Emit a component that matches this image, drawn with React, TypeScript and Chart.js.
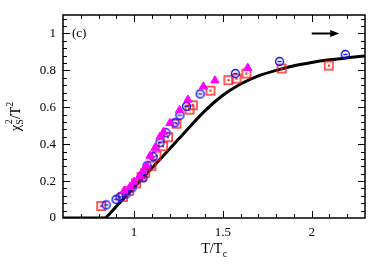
import React, { useEffect, useRef } from 'react';
import { Chart, registerables } from 'chart.js';
Chart.register(...registerables);

// Theory curve: flat part and rising part
const flatT = [0.6, 0.84];
const flatY = [0, 0];
const curveT = [0.84, 0.9, 1.0, 1.1, 1.2, 1.3, 1.4, 1.5, 1.6, 1.7, 1.8, 1.9, 2.0, 2.1, 2.2, 2.3];
const curveY = [0, 0.062, 0.166, 0.27, 0.374, 0.48, 0.582, 0.665, 0.726, 0.77, 0.8, 0.825, 0.843, 0.857, 0.868, 0.878];

// Red squares
const squareT = [0.815, 0.938, 0.972, 1.011, 1.042, 1.062, 1.098, 1.126, 1.163, 1.191, 1.239, 1.312, 1.331, 1.43, 1.531, 1.576, 1.632, 1.831, 2.096];
const squareY = [0.065, 0.114, 0.147, 0.188, 0.223, 0.245, 0.283, 0.337, 0.389, 0.438, 0.511, 0.587, 0.611, 0.69, 0.747, 0.755, 0.783, 0.81, 0.826];

// Blue circles
const circleT = [0.843, 0.899, 0.921, 0.955, 0.989, 1.051, 1.073, 1.107, 1.146, 1.18, 1.23, 1.258, 1.295, 1.372, 1.57, 1.819, 2.189];
const circleY = [0.071, 0.101, 0.114, 0.13, 0.163, 0.217, 0.283, 0.332, 0.408, 0.462, 0.516, 0.557, 0.605, 0.672, 0.783, 0.848, 0.886];

// Magenta triangles
const triangleT = [0.944, 0.978, 1.0, 1.032, 1.051, 1.07, 1.09, 1.118, 1.146, 1.166, 1.202, 1.256, 1.303, 1.39, 1.455, 1.64];
const triangleY = [0.147, 0.168, 0.196, 0.228, 0.255, 0.283, 0.337, 0.38, 0.44, 0.467, 0.514, 0.584, 0.641, 0.712, 0.745, 0.813];

const xTickValues = [1, 1.5, 2];
const xTickLabels = ['1', '1.5', '2'];
const yTickValues = [0, 0.2, 0.4, 0.6, 0.8, 1];
const yTickLabels = ['0', '0.2', '0.4', '0.6', '0.8', '1'];

const SERIF = "'Liberation Serif', 'Times New Roman', serif";

function toPts(xs: number[], ys: number[]) {
  return xs.map((x, i) => ({ x, y: ys[i] }));
}

function makeSquare(): HTMLCanvasElement {
  const c = document.createElement('canvas');
  c.width = 12; c.height = 12;
  const g = c.getContext('2d')!;
  g.strokeStyle = '#ff1a1a';
  g.lineWidth = 1.4;
  g.strokeRect(1.9, 1.9, 8.2, 8.2);
  g.fillStyle = '#ff1a1a';
  g.fillRect(5, 5, 2, 2);
  return c;
}

function makeCircle(): HTMLCanvasElement {
  const c = document.createElement('canvas');
  c.width = 11; c.height = 11;
  const g = c.getContext('2d')!;
  g.strokeStyle = '#1010ff';
  g.lineWidth = 1.4;
  g.beginPath();
  g.arc(5.5, 5.5, 4, 0, Math.PI * 2);
  g.stroke();
  g.beginPath();
  g.moveTo(3.5, 5.5);
  g.lineTo(7.5, 5.5);
  g.stroke();
  return c;
}

const framePlugin = {
  id: 'frame',
  afterDraw(chart: any) {
    const { ctx, chartArea, scales } = chart;
    const { left, right, top, bottom } = chartArea;
    const xs = scales.x;
    const ys = scales.y;
    ctx.save();
    ctx.strokeStyle = '#000';
    ctx.lineWidth = 1;
    const line = (x1: number, y1: number, x2: number, y2: number) => {
      ctx.beginPath(); ctx.moveTo(x1, y1); ctx.lineTo(x2, y2); ctx.stroke();
    };
    for (let i = 6; i <= 23; i++) {
      const v = i / 10;
      const px = Math.round(xs.getPixelForValue(v)) + 0.5;
      if (px <= left + 1 || px >= right - 1) continue;
      const len = i % 5 === 0 ? 7 : 4;
      line(px, bottom, px, bottom - len);
      line(px, top, px, top + len);
    }
    for (let i = 0; i <= 27; i++) {
      const v = i * 0.04;
      const py = Math.round(ys.getPixelForValue(v)) + 0.5;
      if (py <= top + 1 || py >= bottom - 1) continue;
      const len = i % 5 === 0 ? 7 : 4;
      line(left, py, left + len, py);
      line(right, py, right - len, py);
    }
    ctx.lineWidth = 1.5;
    ctx.strokeRect(left, top, right - left, bottom - top);

    ctx.fillStyle = '#000';
    ctx.font = `13px ${SERIF}`;
    ctx.textAlign = 'left';
    ctx.textBaseline = 'middle';
    ctx.fillText('(c)', left + 9, ys.getPixelForValue(1.0));

    const ay = Math.round(ys.getPixelForValue(1.0)) + 0.5;
    const ax1 = xs.getPixelForValue(2.0);
    const ax2 = xs.getPixelForValue(2.155);
    ctx.lineWidth = 2;
    line(ax1, ay, ax2 - 6, ay);
    ctx.beginPath();
    ctx.moveTo(ax2, ay);
    ctx.lineTo(ax2 - 9, ay - 3.5);
    ctx.lineTo(ax2 - 9, ay + 3.5);
    ctx.closePath();
    ctx.fill();

    ctx.textBaseline = 'alphabetic';
    const main = 'T/T';
    ctx.font = `14px ${SERIF}`;
    const wMain = ctx.measureText(main).width;
    ctx.font = `10px ${SERIF}`;
    const wSub = ctx.measureText('c').width;
    const cx = (left + right) / 2;
    const sx = cx - (wMain + wSub) / 2;
    ctx.font = `14px ${SERIF}`;
    ctx.fillText(main, sx, 253);
    ctx.font = `10px ${SERIF}`;
    ctx.fillText('c', sx + wMain + 0.5, 257);

    ctx.save();
    ctx.translate(20, (top + bottom) / 2);
    ctx.rotate(-Math.PI / 2);
    ctx.font = `15px ${SERIF}`;
    const wChi = ctx.measureText('χ').width;
    ctx.font = `10px ${SERIF}`;
    const wS = ctx.measureText('S').width;
    ctx.font = `14px ${SERIF}`;
    const wT = ctx.measureText('/T').width;
    ctx.font = `10px ${SERIF}`;
    const w2 = ctx.measureText('2').width;
    const total = wChi + wS + wT + w2;
    let tx = -total / 2;
    ctx.font = `15px ${SERIF}`;
    ctx.fillText('χ', tx, 0);
    tx += wChi;
    ctx.font = `10px ${SERIF}`;
    ctx.fillText('S', tx, 3);
    ctx.fillText('2', tx + 0.5, -8);
    tx += wS;
    ctx.font = `14px ${SERIF}`;
    ctx.fillText('/T', tx, 0);
    tx += wT;
    ctx.font = `10px ${SERIF}`;
    ctx.fillText('2', tx, -7);
    ctx.restore();

    ctx.restore();
  },
};

export default function App() {
  const ref = useRef<HTMLCanvasElement>(null);
  useEffect(() => {
    document.body.style.margin = '0';
    const canvas = ref.current!;
    const sq = makeSquare();
    const ci = makeCircle();
    const chart = new Chart(canvas, {
      type: 'scatter',
      data: {
        datasets: [
          {
            label: 'triangles',
            data: toPts(triangleT, triangleY),
            pointStyle: 'triangle',
            pointRadius: 4.8,
            backgroundColor: '#ff00ff',
            borderColor: '#ff00ff',
            borderWidth: 1,
            order: 0,
          },
          {
            label: 'circles',
            data: toPts(circleT, circleY),
            pointStyle: ci,
            pointRadius: 5,
            order: 1,
          },
          {
            label: 'squares',
            data: toPts(squareT, squareY),
            pointStyle: sq,
            pointRadius: 5,
            order: 2,
          },
          {
            label: 'curve',
            data: toPts(curveT, curveY),
            showLine: true,
            borderColor: '#000',
            borderWidth: 3,
            pointRadius: 0,
            cubicInterpolationMode: 'monotone',
            order: 3,
          } as any,
          {
            label: 'flat',
            data: toPts(flatT, flatY),
            showLine: true,
            borderColor: '#000',
            borderWidth: 3,
            pointRadius: 0,
            tension: 0,
            order: 4,
          } as any,
        ],
      },
      options: {
        responsive: false,
        animation: false,
        devicePixelRatio: 1,
        layout: { padding: { top: 15, right: 24, left: 0, bottom: 0 } },
        plugins: { legend: { display: false }, tooltip: { enabled: false } },
        scales: {
          x: {
            type: 'linear',
            min: 0.6,
            max: 2.3,
            grid: { display: false, drawTicks: false },
            border: { display: false },
            afterBuildTicks: (s: any) => { s.ticks = xTickValues.map((v) => ({ value: v })); },
            afterFit: (s: any) => { s.height = 55; },
            ticks: {
              padding: 7,
              color: '#000',
              font: { family: SERIF, size: 13 },
              callback: (v: any) => xTickLabels[xTickValues.indexOf(Number(v))] ?? '',
            },
          },
          y: {
            type: 'linear',
            min: 0,
            max: 1.1,
            grid: { display: false, drawTicks: false },
            border: { display: false },
            afterBuildTicks: (s: any) => { s.ticks = yTickValues.map((v) => ({ value: v })); },
            afterFit: (s: any) => { s.width = 63; },
            ticks: {
              padding: 7,
              color: '#000',
              font: { family: SERIF, size: 13 },
              callback: (v: any) => {
                const i = yTickValues.findIndex((t) => Math.abs(t - Number(v)) < 1e-9);
                return i >= 0 ? yTickLabels[i] : '';
              },
            },
          },
        },
      },
      plugins: [framePlugin],
    });
    return () => chart.destroy();
  }, []);
  return (
    <div style={{ width: 389, height: 273 }}>
      <canvas ref={ref} width={389} height={273} />
    </div>
  );
}
